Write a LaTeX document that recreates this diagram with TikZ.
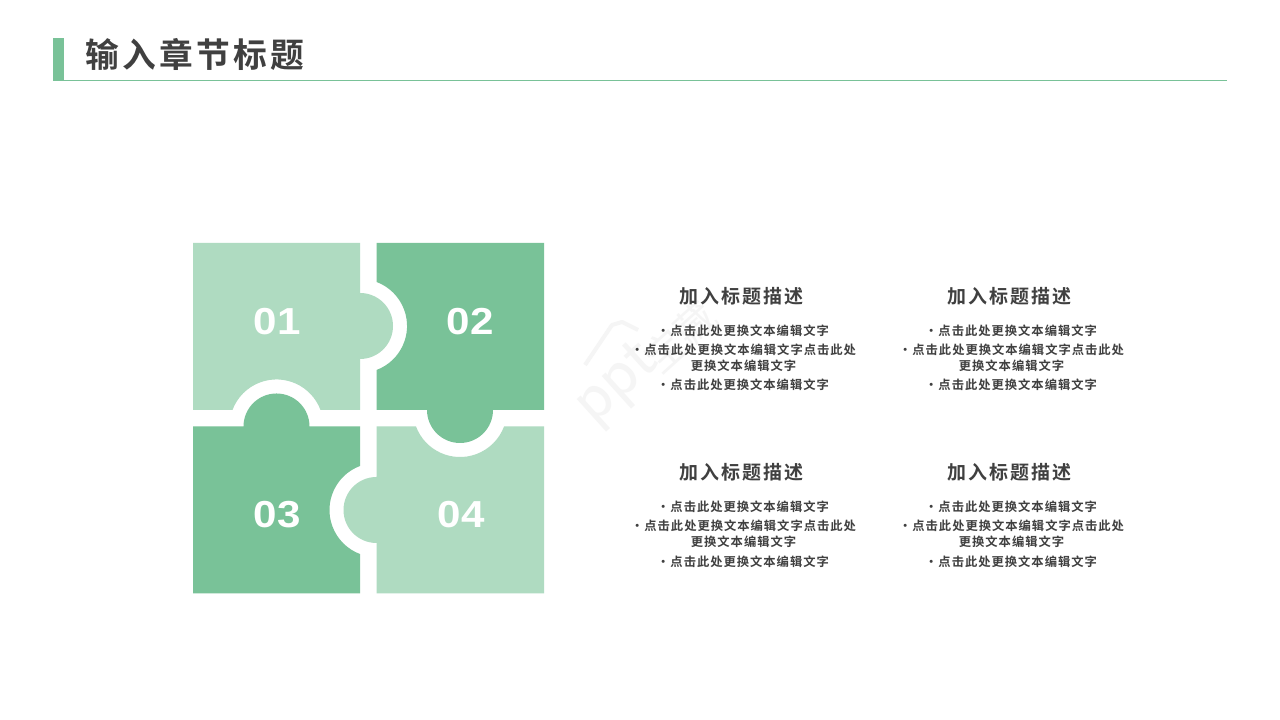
\documentclass[tikz,border=0pt]{standalone}
\usepackage{fontspec}
\usepackage{xcolor}
\newfontfamily\cjktitle[LetterSpace=9.5]{Noto Sans CJK SC Bold}
\newfontfamily\cjkhead[LetterSpace=10]{Noto Sans CJK SC Bold}
\newfontfamily\cjkbody[LetterSpace=8]{Noto Sans CJK SC Bold}
\newfontfamily\cjkmark{Noto Sans CJK SC}
\newfontfamily\numfont[FakeStretch=1.12]{Liberation Sans Bold}
\definecolor{puzzledark}{HTML}{79C298}
\definecolor{puzzlelight}{HTML}{AFDBC1}
\definecolor{inkgray}{HTML}{404040}
\definecolor{markgray}{HTML}{F5F5F5}
\newcommand{\dotgap}{•\kern0.3pt}
\tikzset{
  pagetitle/.style={inner sep=0pt, text=inkgray, font=\cjktitle\fontsize{9.6}{10}\selectfont},
  blockhead/.style={inner sep=0pt, text=inkgray, font=\cjkhead\fontsize{5.4}{6}\selectfont},
  blockline/.style={inner sep=0pt, text=inkgray, font=\cjkbody\fontsize{3.5}{4}\selectfont},
  piecenum/.style={inner sep=0pt, text=white, font=\numfont\fontsize{10.7}{12}\selectfont},
}
\begin{document}
\begin{tikzpicture}
\useasboundingbox (0,0) rectangle (12.8,7.2);
\fill[white] (0,0) rectangle (12.8,7.2);

% header
\fill[puzzledark] (0.53,6.82) rectangle (0.64,6.40);
\draw[puzzledark, line width=0.1mm] (0.53,6.395) -- (12.27,6.395);
\node[pagetitle] (title) at (1.95,6.655) {输入章节标题};

% watermark
\node[rotate=42, text=markgray, font=\fontfamily{lmss}\fontsize{20}{22}\selectfont] (mark) at (6.19,3.35) {ppt};
\node[rotate=42, text=markgray, font=\cjkmark\fontsize{11.4}{12}\selectfont] (markb) at (6.80,3.83) {宝藏};
\draw[markgray, line width=0.4mm, line join=round] (5.85,3.55) -- (6.12,3.95) -- (6.22,3.98) -- (6.38,3.90);

% puzzle pieces
\fill[puzzlelight] (1.93,4.77) -- (3.60,4.77) -- (3.60,4.27) arc (90:-90:0.33) -- (3.60,3.10) -- (3.205,3.10) arc (20.5:159.5:0.47) -- (1.93,3.10) -- cycle;
\fill[puzzledark] (3.765,4.77) -- (5.44,4.77) -- (5.44,3.10) -- (4.93,3.10) arc (0:-180:0.33) -- (3.765,3.10) -- (3.765,3.50) arc (-69.5:69.5:0.47) -- cycle;
\fill[puzzledark] (1.93,2.935) -- (2.435,2.935) arc (180:0:0.33) -- (3.60,2.935) -- (3.60,2.54) arc (110.5:249.5:0.47) -- (3.60,1.265) -- (1.93,1.265) -- cycle;
\fill[puzzlelight] (3.765,2.935) -- (4.16,2.935) arc (200.5:339.5:0.47) -- (5.44,2.935) -- (5.44,1.265) -- (3.765,1.265) -- (3.765,1.77) arc (270:90:0.33) -- cycle;

\node[piecenum] (num1) at (2.77,3.985) {01};
\node[piecenum] (num2) at (4.70,3.985) {02};
\node[piecenum] (num3) at (2.77,2.055) {03};
\node[piecenum] (num4) at (4.61,2.055) {04};

% top left text
\node[blockhead] (headA) at (7.415,4.24) {加入标题描述};
\node[blockline] (lineA1) at (7.43,3.895) {\dotgap 点击此处更换文本编辑文字};
\node[blockline] (lineA2) at (7.435,3.70) {\dotgap 点击此处更换文本编辑文字点击此处};
\node[blockline] (lineA3) at (7.435,3.545) {更换文本编辑文字};
\node[blockline] (lineA4) at (7.43,3.355) {\dotgap 点击此处更换文本编辑文字};

% top right text
\node[blockhead] (headB) at (10.095,4.24) {加入标题描述};
\node[blockline] (lineB1) at (10.11,3.895) {\dotgap 点击此处更换文本编辑文字};
\node[blockline] (lineB2) at (10.115,3.70) {\dotgap 点击此处更换文本编辑文字点击此处};
\node[blockline] (lineB3) at (10.115,3.545) {更换文本编辑文字};
\node[blockline] (lineB4) at (10.11,3.355) {\dotgap 点击此处更换文本编辑文字};

% bottom left text
\node[blockhead] (headC) at (7.415,2.48) {加入标题描述};
\node[blockline] (lineC1) at (7.43,2.13) {\dotgap 点击此处更换文本编辑文字};
\node[blockline] (lineC2) at (7.435,1.94) {\dotgap 点击此处更换文本编辑文字点击此处};
\node[blockline] (lineC3) at (7.435,1.785) {更换文本编辑文字};
\node[blockline] (lineC4) at (7.43,1.58) {\dotgap 点击此处更换文本编辑文字};

% bottom right text
\node[blockhead] (headD) at (10.095,2.48) {加入标题描述};
\node[blockline] (lineD1) at (10.11,2.13) {\dotgap 点击此处更换文本编辑文字};
\node[blockline] (lineD2) at (10.115,1.94) {\dotgap 点击此处更换文本编辑文字点击此处};
\node[blockline] (lineD3) at (10.115,1.785) {更换文本编辑文字};
\node[blockline] (lineD4) at (10.11,1.58) {\dotgap 点击此处更换文本编辑文字};

\end{tikzpicture}
\end{document}
